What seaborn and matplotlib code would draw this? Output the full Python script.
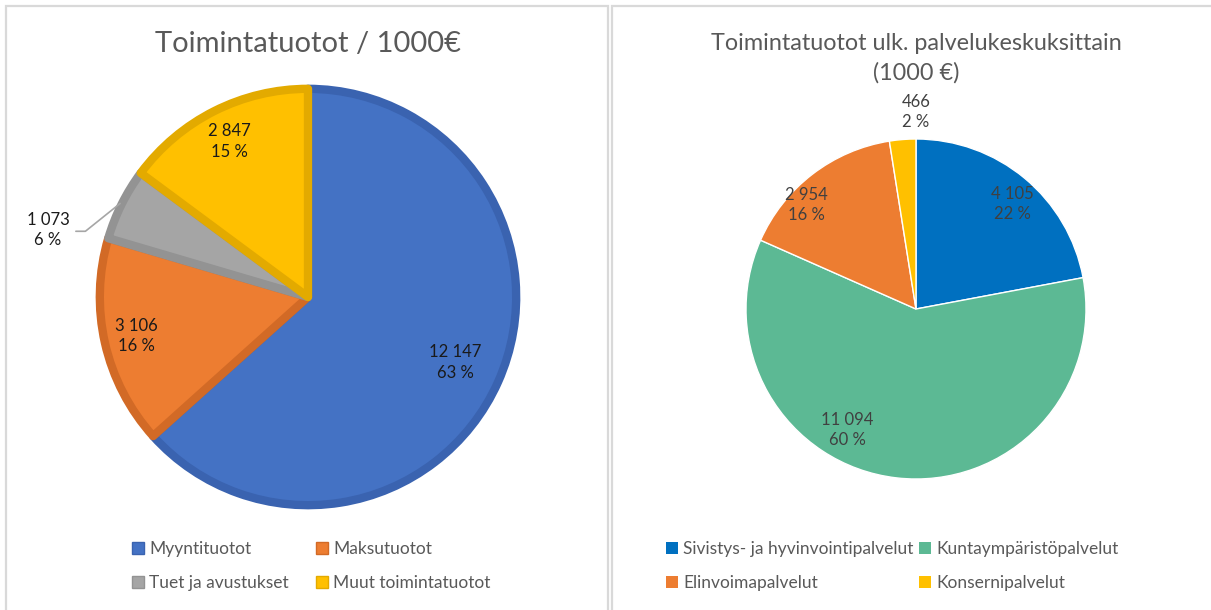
import matplotlib
matplotlib.use("Agg")
import matplotlib.pyplot as plt
from matplotlib.patches import Rectangle
import numpy as np
import seaborn as sns

# left chart: Toimintatuotot / 1000€
left_labels = ["Myyntituotot", "Maksutuotot", "Tuet ja avustukset", "Muut toimintatuotot"]
left_values = [12147, 3106, 1073, 2847]
left_pcts = ["63 %", "16 %", "6 %", "15 %"]
left_colors = ["#4472C4", "#ED7D31", "#A5A5A5", "#FFC000"]
left_edges = ["#3A63B0", "#D26A26", "#939393", "#E3AA00"]

# right chart: by service centre
right_labels = ["Sivistys- ja hyvinvointipalvelut", "Kuntaympäristöpalvelut",
                "Elinvoimapalvelut", "Konsernipalvelut"]
right_values = [4105, 11094, 2954, 466]
right_pcts = ["22 %", "60 %", "16 %", "2 %"]
right_colors = ["#0070C0", "#5CB994", "#ED7D31", "#FFC000"]

W, H = 1211, 610
sns.set_theme(style="white")
plt.rcParams["font.family"] = ["Lato", "DejaVu Sans"]

fig = plt.figure(figsize=(W / 100, H / 100), dpi=100)


def px_axes(cx, cy, r):
    return fig.add_axes([(cx - r) / W, 1 - (cy + r) / H, 2 * r / W, 2 * r / H])


def fmt(v):
    return f"{v:,}".replace(",", " ")


def place_labels(ax, wedges, values, pcts, dists, shifts, color):
    for w, v, p, d, s in zip(wedges, values, pcts, dists, shifts):
        ang = np.deg2rad((w.theta1 + w.theta2) / 2 + s)
        ax.text(d * np.cos(ang), d * np.sin(ang), f"{fmt(v)}\n{p}", ha="center", va="center",
                fontsize=12, color=color, linespacing=1.35)


def row_order(items):
    # legend fills by column; reorder so entries read across rows
    return [items[0], items[2], items[1], items[3]]


# panel frames
for x0, x1 in [(6, 608), (612, 1215)]:
    fig.patches.append(Rectangle((x0 / W, -0.01), (x1 - x0) / W, 1 - 6 / H + 0.01,
                                 transform=fig.transFigure, fill=False,
                                 edgecolor="#D9D9D9", linewidth=1.6))

# ---- left pie
axl = px_axes(308, 297, 212)
wl, _ = axl.pie(left_values, colors=left_colors, startangle=90, counterclock=False,
                radius=0.982, wedgeprops=dict(linewidth=6))
for w, ec in zip(wl, left_edges):
    w.set_edgecolor(ec)
    w.set_joinstyle("round")
axl.set_xlim(-1, 1)
axl.set_ylim(-1, 1)
place_labels(axl, [wl[0], wl[1], wl[3]], [left_values[0], left_values[1], left_values[3]],
             [left_pcts[0], left_pcts[1], left_pcts[3]], [0.76, 0.83, 0.82], [0, 0, 0], "#1A1A1A")
# gray slice label outside with leader line
g = wl[2]
ga = np.deg2rad((g.theta1 + g.theta2) / 2)
axl.plot([np.cos(ga) * 0.99, -1.05, -1.095], [np.sin(ga) * 0.99, 0.31, 0.31],
         color="#A6A6A6", linewidth=1.2, clip_on=False)
axl.text(-1.226, 0.316, f"{fmt(left_values[2])}\n{left_pcts[2]}", ha="center", va="center",
         fontsize=12, color="#1A1A1A", linespacing=1.35)

fig.text(308 / W, 1 - 44 / H, "Toimintatuotot / 1000€", ha="center", va="center",
         fontsize=21, color="#595959")

lh = [Rectangle((0, 0), 1, 1, facecolor=c, edgecolor=ec) for c, ec in zip(left_colors, left_edges)]
fig.legend(row_order(lh), row_order(left_labels), loc="center left",
           bbox_to_anchor=(116 / W, 1 - 566 / H), ncol=2,
           frameon=False, fontsize=12.5, labelcolor="#595959", handlelength=0.7, handleheight=0.7,
           handletextpad=0.3, columnspacing=1.55, labelspacing=1.0)

# ---- right pie
axr = px_axes(916, 309, 170)
wr, _ = axr.pie(right_values, colors=right_colors, startangle=90, counterclock=False,
                wedgeprops=dict(linewidth=1, edgecolor="white"))
axr.set_xlim(-1, 1)
axr.set_ylim(-1, 1)
place_labels(axr, wr, right_values, right_pcts, [0.84, 0.82, 0.89, 1.16],
             [-3, -23, 9, -4.5], "#404040")

fig.text(916 / W, 1 - 43 / H, "Toimintatuotot ulk. palvelukeskuksittain", ha="center",
         va="center", fontsize=16.8, color="#595959")
fig.text(916 / W, 1 - 73 / H, "(1000 €)", ha="center", va="center", fontsize=16.8, color="#595959")

rh = [Rectangle((0, 0), 1, 1, facecolor=c, edgecolor="none") for c in right_colors]
fig.legend(row_order(rh), row_order(right_labels), loc="center left",
           bbox_to_anchor=(650 / W, 1 - 566 / H), ncol=2,
           frameon=False, fontsize=12.5, labelcolor="#595959", handlelength=0.7, handleheight=0.7,
           handletextpad=0.3, columnspacing=0.3, labelspacing=1.0)

fig.savefig("out.png", dpi=100)
